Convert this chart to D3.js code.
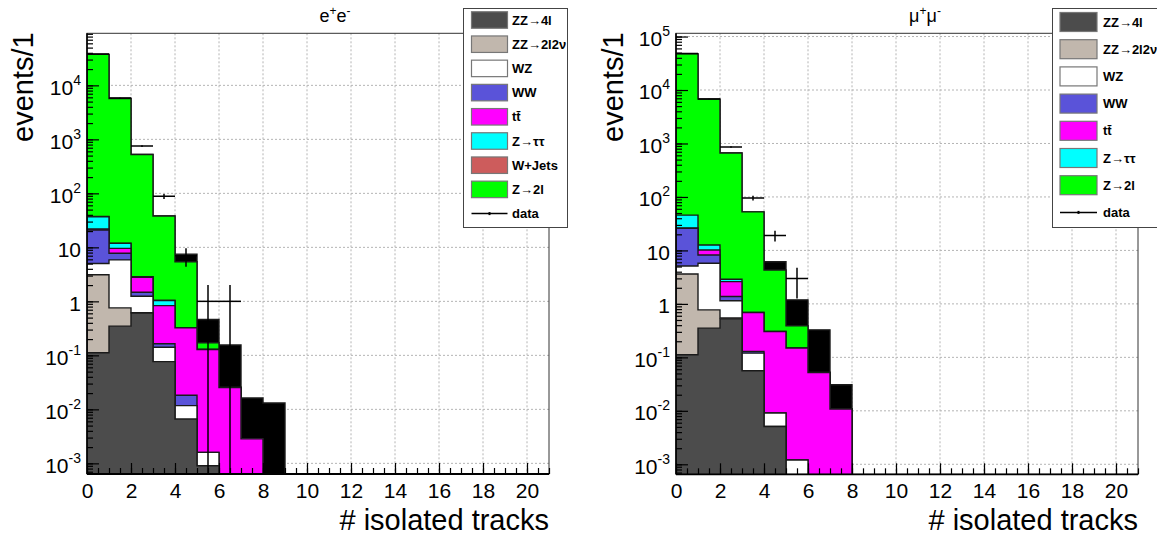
<!DOCTYPE html>
<html><head><meta charset="utf-8">
<script src="https://cdn.jsdelivr.net/npm/d3@7"></script>
<style>
body{margin:0;background:#fff}
svg{display:block;font-family:"Liberation Sans",Arial,Helvetica,sans-serif}
</style>
</head><body>
<svg id="c" width="1157" height="537"></svg>
<script>
// ---------------- data ----------------
const binEdges = [0,1,2,3,4,5,6,7,8,9,10,11,12,13,14,15,16,17,18,19,20,21];

const sampleNames  = ["ZZ→4l","ZZ→2l2ν","WZ","WW","tt̄","Z→ττ","W+Jets","Z→2l","other"];
const sampleColors = ["#4c4c4c","#c1b7ad","#ffffff","#5a53d9","#ff00ff","#00ffff","#cd5c5c","#00ff00","#000000"];

// e+e- channel (stack order bottom -> top)
const ee_ZZ4l     = [0.112,0.347,0.61,0.0766,0.0066,0.0009,0,0,0,0,0,0,0,0,0,0,0,0,0,0,0];
const ee_ZZ2l2nu  = [3.0,0.41,0.005,0,0,0,0,0,0,0,0,0,0,0,0,0,0,0,0,0,0];
const ee_WZ       = [1.9,5.1,0.63,0.065,0.0051,0.0007,0,0,0,0,0,0,0,0,0,0,0,0,0,0,0];
const ee_WW       = [16,1.9,0.23,0.022,0.0066,0,0,0,0,0,0,0,0,0,0,0,0,0,0,0,0];
const ee_ttbar    = [0.8,1.8,1.3,0.67,0.306,0.127,0.0254,0.00284,0,0,0,0,0,0,0,0,0,0,0,0,0];
const ee_Ztautau  = [15,2.3,0.1,0.2,0,0,0,0,0,0,0,0,0,0,0,0,0,0,0,0,0];
const ee_WJets    = [0.5,0.1,0,0,0,0,0,0,0,0,0,0,0,0,0,0,0,0,0,0,0];
const ee_Z2l      = [37460,5698,522,37,5.1,0.042,0,0,0,0,0,0,0,0,0,0,0,0,0,0,0];
const ee_other    = [0,0,0,0,2.05,0.29,0.13,0.0134,0.0131,0,0,0,0,0,0,0,0,0,0,0,0];
const ee_data     = [37900,5800,750,88,7,1,1,0,0,0,0,0,0,0,0,0,0,0,0,0,0];

// mu+mu- channel
const mm_ZZ4l     = [0.112,0.352,0.525,0.056,0.0051,0.0003,0,0,0,0,0,0,0,0,0,0,0,0,0,0,0];
const mm_ZZ2l2nu  = [3.5,0.42,0.02,0,0,0,0,0,0,0,0,0,0,0,0,0,0,0,0,0,0];
const mm_WZ       = [1.5,4.97,0.6,0.064,0.004,0.0009,0,0,0,0,0,0,0,0,0,0,0,0,0,0,0];
const mm_WW       = [20.7,2.46,0.23,0.009,0,0,0,0,0,0,0,0,0,0,0,0,0,0,0,0,0];
const mm_ttbar    = [0.5,2.0,1.23,0.56,0.296,0.148,0.052,0.0108,0,0,0,0,0,0,0,0,0,0,0,0,0];
const mm_Ztautau  = [19.4,2.4,0.29,0,0,0,0,0,0,0,0,0,0,0,0,0,0,0,0,0,0];
const mm_Z2l      = [47454,6747,662,52,4.0,0.24,0,0,0,0,0,0,0,0,0,0,0,0,0,0,0];
const mm_other    = [0,0,0,0,1.85,0.8,0.275,0.020,0,0,0,0,0,0,0,0,0,0,0,0,0];
const mm_data     = [48000,6800,860,96,19,3,0,0,0,0,0,0,0,0,0,0,0,0,0,0,0];

// ticks / labels
const xTickValues = [0,2,4,6,8,10,12,14,16,18,20];
const xTickLabels = ["0","2","4","6","8","10","12","14","16","18","20"];
const eeYTickValues = [1e-3,1e-2,1e-1,1,10,1e2,1e3,1e4];
const eeYTickLabels = ["10^-3","10^-2","10^-1","1","10","10^2","10^3","10^4"];
const mmYTickValues = [1e-3,1e-2,1e-1,1,10,1e2,1e3,1e4,1e5];
const mmYTickLabels = ["10^-3","10^-2","10^-1","1","10","10^2","10^3","10^4","10^5"];

const eeLegend = ["ZZ→4l","ZZ→2l2ν","WZ","WW","tt̄","Z→ττ","W+Jets","Z→2l","data"];
const mmLegend = ["ZZ→4l","ZZ→2l2ν","WZ","WW","tt̄","Z→ττ","Z→2l","data"];

const xTitle = "# isolated tracks";
const yTitle = "events/1";

// ---------------- layout ----------------
const svg = d3.select("#c");
svg.append("rect").attr("width",1157).attr("height",537).attr("fill","#fff");

const panels = [
  { id:"ee", left:87, right:549, top:33.3, bottom:474, yMin:6.35e-4, yMax:9.2e4,
    title:["e","+","e","-"], titleX:335,
    series:[ee_ZZ4l,ee_ZZ2l2nu,ee_WZ,ee_WW,ee_ttbar,ee_Ztautau,ee_WJets,ee_Z2l,ee_other],
    colorIdx:[0,1,2,3,4,5,6,7,8],
    data:ee_data, yTicks:eeYTickValues, yLabels:eeYTickLabels, yTitleX:33,
    legend:{labels:eeLegend, x:463, y:8, w:104, h:219, swX:471.5, swW:36, swH:16.5, textX:512, row0:20, pitch:24.2,
            colorIdx:[0,1,2,3,4,5,6,7]} },
  { id:"mm", left:676, right:1138, top:33.3, bottom:474.3, yMin:6.5e-4, yMax:1.15e5,
    title:["μ","+","μ","-"], titleX:925,
    series:[mm_ZZ4l,mm_ZZ2l2nu,mm_WZ,mm_WW,mm_ttbar,mm_Ztautau,mm_Z2l,mm_other],
    colorIdx:[0,1,2,3,4,5,7,8],
    data:mm_data, yTicks:mmYTickValues, yLabels:mmYTickLabels, yTitleX:623,
    legend:{labels:mmLegend, x:1052, y:8, w:105, h:219, swX:1060, swW:37, swH:19, textX:1103, row0:22, pitch:27.2,
            colorIdx:[0,1,2,3,4,5,7]} }
];

function supLabel(sel, label, supSize, dy) {
  const parts = label.split("^");
  sel.text(null);
  sel.append("tspan").text(parts[0]);
  if (parts.length > 1) sel.append("tspan").attr("font-size", supSize).attr("dy", dy).text(parts[1]);
}

panels.forEach(p => {
  const g = svg.append("g");
  const x = d3.scaleLinear().domain([0,21]).range([p.left,p.right]);
  const y = d3.scaleLog().domain([p.yMin,p.yMax]).range([p.bottom,p.top]);
  const low = p.bottom + 30;
  const yv = v => v > 0 ? y(v) : low;

  const clipId = "clip-" + p.id;
  svg.append("clipPath").attr("id",clipId).append("rect")
    .attr("x",p.left).attr("y",p.top).attr("width",p.right-p.left).attr("height",p.bottom-p.top);

  // grid
  const grid = g.append("g").attr("stroke","#b4b4b4").attr("stroke-width",1).attr("stroke-dasharray","2,2");
  grid.selectAll("line.gx").data(xTickValues.filter(v=>v>0)).join("line")
    .attr("x1",d=>x(d)).attr("x2",d=>x(d)).attr("y1",p.top).attr("y2",p.bottom);
  grid.selectAll("line.gy").data(p.yTicks).join("line")
    .attr("x1",p.left).attr("x2",p.right).attr("y1",d=>y(d)).attr("y2",d=>y(d));

  // stacked histograms (cumulative, drawn top-first like THStack)
  let cum = binEdges.slice(0,21).map(()=>0);
  const layers = p.series.map((s,k) => {
    cum = cum.map((c,i)=>c+s[i]);
    return {color: sampleColors[p.colorIdx[k]], cum: cum.slice()};
  });
  const area = d3.area()
    .x(d=>x(d.x)).y0(low).y1(d=>yv(d.v))
    .curve(d3.curveStepAfter);
  const hg = g.append("g").attr("clip-path",`url(#${clipId})`);
  layers.slice().reverse().forEach(L => {
    const pts = binEdges.map((e,i)=>({x:e, v:L.cum[Math.min(i,20)]}));
    hg.append("path").attr("d",area(pts))
      .attr("fill",L.color).attr("stroke","#1a1a1a").attr("stroke-width",1.4)
      .attr("stroke-linejoin","miter");
  });

  // data points with errors
  const dg = g.append("g").attr("clip-path",`url(#${clipId})`).attr("stroke","#000").attr("stroke-width",1.5);
  const pts = p.data.map((d,i)=>({i,d})).filter(o=>o.d>0);
  dg.selectAll("line.h").data(pts).join("line")
    .attr("x1",o=>x(binEdges[o.i])).attr("x2",o=>x(binEdges[o.i+1]))
    .attr("y1",o=>y(o.d)).attr("y2",o=>y(o.d));
  dg.selectAll("line.v").data(pts).join("line")
    .attr("x1",o=>x(binEdges[o.i]+0.5)).attr("x2",o=>x(binEdges[o.i]+0.5))
    .attr("y1",o=>y(o.d+Math.sqrt(o.d))).attr("y2",o=>yv(o.d-Math.sqrt(o.d)));

  // frame
  g.append("rect").attr("x",p.left).attr("y",p.top).attr("width",p.right-p.left).attr("height",p.bottom-p.top)
    .attr("fill","none").attr("stroke","#333").attr("stroke-width",1);

  // x axis ticks (inside)
  const xMinor = d3.range(0,21.01,0.5);
  const axMinor = g.append("g").attr("transform",`translate(0,${p.bottom})`)
    .call(d3.axisTop(x).tickValues(xMinor).tickSize(6).tickFormat(""));
  const axMajor = g.append("g").attr("transform",`translate(0,${p.bottom})`)
    .call(d3.axisTop(x).tickValues(xTickValues).tickSize(11).tickFormat(""));
  const axLab = g.append("g").attr("transform",`translate(0,${p.bottom})`)
    .call(d3.axisBottom(x).tickValues(xTickValues).tickSize(0).tickPadding(9)
      .tickFormat((d,i)=>xTickLabels[i]));
  axLab.selectAll("text").attr("font-size",21).attr("fill","#000").attr("font-family","Liberation Sans, Arial, sans-serif");
  [axMinor,axMajor,axLab].forEach(a=>{a.select(".domain").remove(); a.selectAll("line").attr("stroke","#000").attr("stroke-width",1.2);});

  // y axis ticks (inside)
  const lo = Math.floor(Math.log10(p.yMin)), hi = Math.ceil(Math.log10(p.yMax));
  const yMinor = [];
  for (let e=lo; e<=hi; e++) for (let m=1; m<=9; m++) { const v=m*Math.pow(10,e); if (v>=p.yMin && v<=p.yMax) yMinor.push(v); }
  const ayMinor = g.append("g").attr("transform",`translate(${p.left},0)`)
    .call(d3.axisRight(y).tickValues(yMinor).tickSize(6).tickFormat(""));
  const ayMajor = g.append("g").attr("transform",`translate(${p.left},0)`)
    .call(d3.axisRight(y).tickValues(p.yTicks).tickSize(12).tickFormat(""));
  const ayLab = g.append("g").attr("transform",`translate(${p.left},0)`)
    .call(d3.axisLeft(y).tickValues(p.yTicks).tickSize(0).tickPadding(6).tickFormat((d,i)=>p.yLabels[i]));
  [ayMinor,ayMajor,ayLab].forEach(a=>{a.select(".domain").remove(); a.selectAll("line").attr("stroke","#000").attr("stroke-width",1.2);});
  ayLab.selectAll("text").attr("font-size",21).attr("fill","#000").attr("dy","0.42em")
    .attr("font-family","Liberation Sans, Arial, sans-serif")
    .each(function(d,i){ supLabel(d3.select(this), p.yLabels[i], 14, -10); });

  // axis lines
  g.append("line").attr("x1",p.left).attr("x2",p.left).attr("y1",p.top).attr("y2",p.bottom).attr("stroke","#000").attr("stroke-width",1.6);
  g.append("line").attr("x1",p.left).attr("x2",p.right).attr("y1",p.bottom).attr("y2",p.bottom).attr("stroke","#000").attr("stroke-width",1.8);

  // axis titles
  g.append("text").attr("x",p.right).attr("y",530).attr("text-anchor","end")
    .attr("font-size",29).attr("fill","#000").text(xTitle);
  g.append("text").attr("transform",`translate(${p.yTitleX},${p.top-1}) rotate(-90)`).attr("text-anchor","end")
    .attr("font-size",29).attr("fill","#000").text(yTitle);

  // title
  const t = g.append("text").attr("x",p.titleX).attr("y",22).attr("text-anchor","middle").attr("font-size",18).attr("fill","#000");
  t.append("tspan").text(p.title[0]);
  t.append("tspan").attr("font-size",12).attr("dy",-7).text(p.title[1]);
  t.append("tspan").attr("dy",7).text(p.title[2]);
  t.append("tspan").attr("font-size",12).attr("dy",-7).text(p.title[3]);

  // legend
  const L = p.legend;
  const lclip = "lclip-" + p.id;
  svg.append("clipPath").attr("id",lclip).append("rect").attr("x",L.x).attr("y",L.y).attr("width",L.w).attr("height",L.h);
  const lg = g.append("g");
  lg.append("rect").attr("x",L.x+0.5).attr("y",L.y+0.5).attr("width",L.w).attr("height",L.h)
    .attr("fill","#fff").attr("stroke","#444").attr("stroke-width",1);
  const lin = lg.append("g").attr("clip-path",`url(#${lclip})`);
  L.labels.forEach((lab,i) => {
    const cy = L.row0 + i*L.pitch;
    if (i < L.colorIdx.length) {
      lin.append("rect").attr("x",L.swX).attr("y",cy-L.swH/2).attr("width",L.swW).attr("height",L.swH)
        .attr("fill",sampleColors[L.colorIdx[i]]).attr("stroke","#777").attr("stroke-width",1.2);
    } else {
      lin.append("line").attr("x1",L.swX).attr("x2",L.swX+L.swW).attr("y1",cy).attr("y2",cy).attr("stroke","#000").attr("stroke-width",1.5);
      lin.append("line").attr("x1",L.swX+L.swW/2).attr("x2",L.swX+L.swW/2).attr("y1",cy-1.5).attr("y2",cy+1.5).attr("stroke","#000").attr("stroke-width",2);
    }
    lin.append("text").attr("x",L.textX).attr("y",cy+4.5).attr("font-size",13).attr("font-weight","bold")
      .attr("fill","#000").text(lab);
  });
});
</script>
</body></html>
